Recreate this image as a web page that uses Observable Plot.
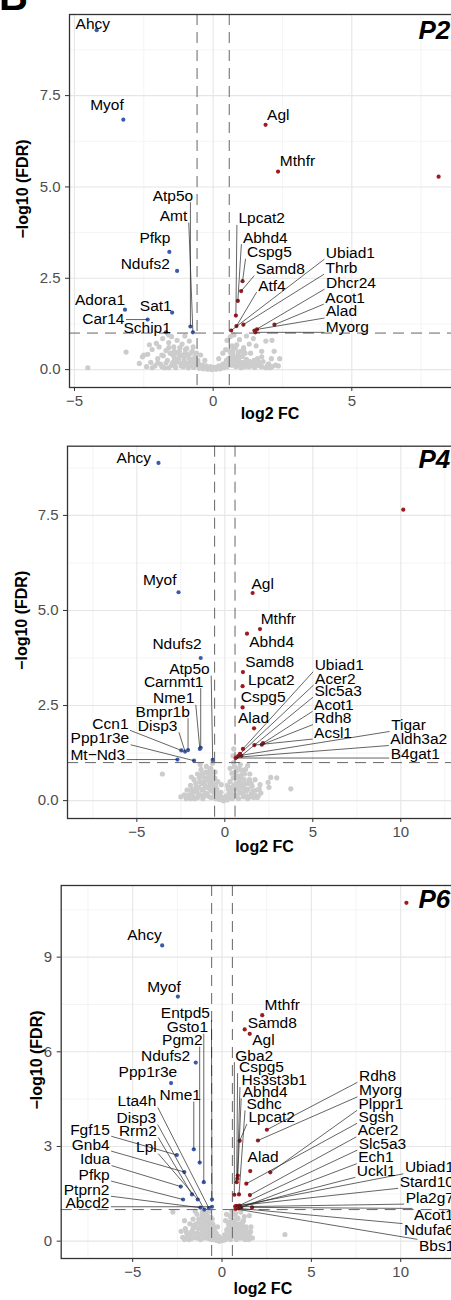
<!DOCTYPE html>
<html><head><meta charset="utf-8">
<script src="https://cdn.jsdelivr.net/npm/d3@7"></script>
<script src="https://cdn.jsdelivr.net/npm/@observablehq/plot@0.6"></script>
<style>
html,body{margin:0;padding:0;background:#fff;overflow:hidden;}
#wrap{position:relative;width:451px;height:1300px;overflow:hidden;background:#fff;}
#wrap svg{max-width:none !important;}
#tag{position:absolute;z-index:5;left:-1px;top:-24px;font:bold 40px "Liberation Sans",Arial,sans-serif;line-height:40px;color:#000;}
</style></head><body>
<div id="wrap"><div id="tag">B</div></div>
<script>
// ---------- P2 ----------
const p2Gene = ["Ahcy","Myof","Agl","Mthfr","Atp5o","Amt","Pfkp","Ndufs2","Adora1","Sat1","Car14","Schip1","Lpcat2","Abhd4","Cspg5","Samd8","Atf4","Ubiad1","Thrb","Dhcr24","Acot1","Alad","Myorg"];
const p2LogFC = [-4.20,-3.24,1.89,2.34,-0.82,-0.73,-1.58,-1.30,-3.18,-1.48,-2.36,-1.70,0.82,0.89,1.06,1.01,0.84,0.65,1.09,1.49,2.21,1.58,1.52];
const p2NegLogFDR = [9.29,6.84,6.70,5.42,1.18,1.02,3.22,2.70,1.64,1.56,1.37,1.02,1.48,1.88,2.42,2.15,1.19,1.07,1.23,1.07,1.23,1.10,1.02];
const p2LabelFC = [-4.34,-3.83,2.35,3.04,-1.45,-1.43,-2.10,-2.45,-4.08,-2.07,-3.96,-2.38,1.75,1.88,2.03,2.42,2.12,4.95,4.63,4.97,4.76,4.63,4.84];
const p2LabelFDR = [9.45,7.23,6.98,5.72,4.76,4.20,3.60,2.90,1.90,1.75,1.38,1.14,4.14,3.61,3.21,2.75,2.30,3.20,2.79,2.38,1.97,1.59,1.16];
const p2Unlabeled = [[8.13,5.28]];
const p2Background = [[-4.52,0.05],[-3.14,0.48],[-2.66,0.17],[-2.55,0.35],[-2.36,0.42],[-2.2,0.55],[-2.05,0.72],[-1.95,0.62],[-1.82,0.85],[-1.7,0.52],[-1.6,0.74],[-1.5,0.9],[-1.42,0.62],[-1.3,0.8],[-1.22,0.5],[-1.12,0.7],[-1.02,0.92],[-0.95,0.58],[-0.86,0.78],[-0.8,0.45],[-0.72,0.62],[-0.65,0.35],
[-2.4,0.08],[-2.25,0.2],[-2.1,0.1],[-2.0,0.3],[-1.9,0.15],[-1.8,0.38],[-1.75,0.05],[-1.65,0.25],[-1.55,0.45],[-1.5,0.12],[-1.4,0.32],[-1.35,0.05],[-1.3,0.22],[-1.2,0.38],[-1.15,0.1],[-1.05,0.28],[-1.0,0.45],[-0.95,0.15],[-0.9,0.05],[-0.85,0.3],[-0.75,0.18],[-0.7,0.06],[-0.6,0.12],[-0.55,0.25],[-0.5,0.04],[-0.42,0.1],[-0.35,0.02],[-0.28,0.07],[-0.2,0.01],[-0.12,0.04],[-0.05,0.0],[0.02,0.03],[0.1,0.01],[0.18,0.06],[0.25,0.02],[0.32,0.1],[0.38,0.05],[0.45,0.18],[0.5,0.08],[0.55,0.3],[0.6,0.14],[0.65,0.42],[0.7,0.22],[0.72,0.55],[0.78,0.35],[0.82,0.08],[0.85,0.68],[0.9,0.48],[0.95,0.2],[1.0,0.05],[1.05,0.36],[1.1,0.6],[1.15,0.15],[1.2,0.28],[1.28,0.08],[1.35,0.45],[1.42,0.18],[1.5,0.06],[1.6,0.3],[1.7,0.1],[1.8,0.22],[1.9,0.05],[2.0,0.16],[2.12,0.08],[2.25,0.12],[2.35,0.1],
[0.45,0.55],[0.5,0.8],[0.62,0.9],[0.75,0.95],[0.95,0.82],[1.2,0.92],[1.3,0.7],[1.55,0.65],[1.45,0.85],[1.75,0.5],[1.9,0.78],[2.12,0.8],[2.2,0.5],[2.4,0.3],[-1.6,0.95],[-2.3,0.68],[-0.45,0.4],[-0.3,0.25],[0.2,0.3],[0.35,0.45],[-1.1,0.4],[-1.4,0.5],[-1.85,0.4],[-2.5,0.4],[1.1,0.55],[1.75,0.35],[2.1,0.3]];
const p2Core = [[-2.2,0.05],[-2.0,0.18],[-1.85,0.08],[-1.7,0.18],[-1.6,0.05],[-1.45,0.2],[-1.38,0.12],[-1.25,0.3],[-1.18,0.18],[-1.08,0.08],[-1.02,0.2],[-0.98,0.38],[-0.88,0.18],[-0.82,0.1],[-0.78,0.26],[-0.68,0.12],[-0.62,0.22],[-0.52,0.15],[-0.46,0.06],[-0.38,0.12],[-0.32,0.05],[-0.25,0.1],[-0.18,0.05],[-0.1,0.08],[-0.02,0.05],[0.05,0.06],[0.12,0.05],[0.2,0.1],[0.28,0.06],[0.35,0.15],[0.42,0.1],[0.48,0.25],[0.52,0.12],[0.58,0.2],[0.62,0.32],[0.68,0.12],[0.74,0.28],[0.8,0.2],[0.88,0.12],[0.92,0.3],[0.98,0.14],[1.08,0.2],[1.12,0.08],[1.22,0.15],[1.32,0.22],[1.38,0.1],[1.48,0.25],[1.58,0.12],[1.65,0.2],[1.75,0.08],[1.95,0.1],[2.05,0.05],[-1.3,0.45],[-1.0,0.55],[-0.9,0.4],[-0.75,0.5],[-1.2,0.6],[-1.45,0.4],[-1.6,0.6],[0.6,0.5],[0.7,0.45],[0.8,0.6],[0.9,0.38],[1.0,0.5],[0.68,0.65],[1.15,0.45],[-0.6,0.45],[-0.68,0.3]];

// ---------- P4 ----------
const p4Gene = ["Ahcy","Myof","Agl","Mthfr","Abhd4","Ndufs2","Samd8","Lpcat2","Cspg5","Alad","Atp5o","Carnmt1","Nme1","Bmpr1b","Disp3","Ccn1","Ppp1r3e","Mt\u2212Nd3","Ubiad1","Acer2","Slc5a3","Acot1","Rdh8","Acsl1","Tigar","Aldh3a2","B4gat1"];
const p4LogFC = [-3.77,-2.63,1.58,2.00,1.26,-1.37,1.03,1.01,1.01,1.66,-0.69,-1.37,-1.42,-2.09,-2.26,-2.47,-1.75,-2.69,1.03,0.86,0.94,2.17,2.10,1.68,0.77,0.67,0.61];
const p4NegLogFDR = [8.88,5.48,5.46,4.51,4.39,3.75,3.38,3.01,2.45,1.90,1.07,1.39,1.36,1.33,1.29,1.32,1.05,1.08,1.36,1.23,1.18,1.51,1.47,1.46,1.18,1.14,1.12];
const p4LabelFC = [-5.17,-3.70,2.15,3.04,2.66,-2.72,2.55,2.64,2.18,1.63,-2.01,-2.91,-2.91,-3.53,-3.82,-6.50,-7.10,-7.22,6.50,6.28,6.44,6.20,6.14,6.15,10.44,11.02,10.82];
const p4LabelFDR = [9.01,5.79,5.70,4.77,4.18,4.11,3.65,3.18,2.72,2.16,3.46,3.13,2.69,2.34,1.97,2.02,1.64,1.20,3.56,3.21,2.89,2.52,2.17,1.79,1.99,1.62,1.22];
const p4Unlabeled = [[10.14,7.65]];
const p4Background = [[-3.55,0.70],[-2.3,0.15],[-2.15,0.28],[-2.0,0.08],[-1.95,0.4],[-1.85,0.2],[-1.75,0.55],[-1.7,0.05],[-1.62,0.35],[-1.55,0.7],[-1.5,0.15],[-1.42,0.5],[-1.35,0.82],[-1.3,0.28],[-1.25,0.05],[-1.2,0.62],[-1.12,0.4],[-1.05,0.9],[-1.0,0.18],[-0.95,0.72],[-0.9,0.5],[-0.85,0.3],[-0.8,0.85],[-0.75,0.08],[-0.72,0.6],[-0.65,0.4],[-0.6,0.2],[-0.55,0.75],[-0.5,0.05],[-0.45,0.3],[-0.4,0.5],[-0.35,0.15],[-0.3,0.03],[-0.22,0.22],[-0.15,0.08],[-0.08,0.0],[0.0,0.04],[0.08,0.12],[0.15,0.02],[0.2,0.3],[0.25,0.1],[0.3,0.5],[0.35,0.2],[0.4,0.72],[0.42,0.05],[0.46,1.18],[0.5,0.4],[0.51,1.36],[0.55,0.9],[0.58,0.15],[0.62,0.6],[0.68,0.3],[0.72,0.8],[0.78,0.05],[0.82,0.5],[0.88,0.95],[0.9,0.2],[0.95,0.68],[1.0,0.35],[1.05,0.1],[1.1,0.55],[1.18,0.82],[1.22,0.25],[1.3,0.05],[1.35,0.45],[1.42,0.7],[1.5,0.18],[1.55,0.38],[1.65,0.08],[1.72,0.55],[1.8,0.28],[1.9,0.12],[2.0,0.42],[2.05,0.2],[2.46,0.48],[2.51,0.35],[2.61,0.61],[2.95,0.6],[3.75,0.31],[-2.5,0.1],[-1.9,0.62],[-0.55,0.55],[0.3,0.85],[0.5,1.0],[1.3,0.92],[-1.4,0.95],[-0.7,0.98],[0.15,0.4],[-0.2,0.42],[-1.15,0.12],[-0.95,0.35],[0.7,0.1],[1.15,0.3],[-1.6,0.25]];
const p4Core = [[-2.2,0.05],[-2.05,0.15],[-1.9,0.28],[-1.8,0.1],[-1.72,0.3],[-1.65,0.45],[-1.58,0.22],[-1.48,0.35],[-1.45,0.6],[-1.38,0.15],[-1.32,0.45],[-1.28,0.7],[-1.22,0.3],[-1.18,0.5],[-1.1,0.2],[-1.08,0.75],[-1.02,0.55],[-0.98,0.35],[-0.92,0.62],[-0.88,0.1],[-0.85,0.8],[-0.82,0.42],[-0.78,0.65],[-0.75,0.25],[-0.7,0.5],[-0.68,0.75],[-0.62,0.3],[-0.58,0.6],[-0.52,0.4],[-0.48,0.18],[-0.42,0.22],[-0.38,0.08],[-0.28,0.12],[-0.2,0.05],[-0.12,0.02],[-0.05,0.08],[0.05,0.1],[0.12,0.06],[0.22,0.18],[0.3,0.25],[0.38,0.35],[0.45,0.15],[0.48,0.6],[0.55,0.3],[0.58,0.75],[0.62,0.45],[0.68,0.15],[0.7,0.65],[0.75,0.38],[0.8,0.85],[0.85,0.25],[0.88,0.6],[0.92,0.45],[0.98,0.8],[1.02,0.2],[1.08,0.4],[1.12,0.7],[1.2,0.45],[1.25,0.12],[1.32,0.3],[1.4,0.55],[1.45,0.1],[1.6,0.25],[1.7,0.15],[1.85,0.08],[-1.95,0.05],[-1.55,0.08],[1.95,0.3],[1.5,0.45]];

// ---------- P6 ----------
const p6Gene = ["Ahcy","Myof","Mthfr","Samd8","Agl","Entpd5","Gsto1","Pgm2","Ndufs2","Ppp1r3e","Nme1","Lta4h","Disp3","Fgf15","Rrm2","Gnb4","Lpl","Idua","Pfkp","Ptprn2","Abcd2","Gba2","Cspg5","Hs3st3b1","Abhd4","Sdhc","Lpcat2","Alad","Rdh8","Myorg","Plppr1","Sgsh","Acer2","Slc5a3","Ech1","Uckl1","Ubiad1","Stard10","Pla2g7","Acot1","Ndufa6","Bbs1"];
const p6LogFC = [-3.35,-2.47,2.25,1.27,1.55,-0.56,-1.02,-1.25,-1.47,-2.85,-1.58,-0.74,-0.99,-2.53,-1.68,-2.11,-1.36,-2.31,-2.18,-1.21,-0.56,0.69,0.82,0.86,0.88,0.95,0.99,1.58,2.51,2.01,2.70,1.36,1.56,0.97,1.06,0.88,0.74,0.80,1.00,1.68,0.92,0.76];
const p6NegLogFDR = [9.37,7.75,7.16,6.71,6.57,1.32,1.87,2.49,5.66,5.01,2.91,1.05,1.00,2.73,1.48,2.19,1.32,1.73,1.32,1.06,1.09,1.47,1.87,1.98,2.08,1.48,3.18,2.22,3.53,3.19,2.18,1.82,1.46,1.13,1.06,1.06,1.10,1.12,1.09,1.07,1.04,1.02];
const p6LabelFC = [-4.34,-3.25,3.37,2.81,2.32,-2.05,-1.94,-2.22,-3.16,-4.15,-2.34,-4.76,-4.79,-7.39,-4.71,-7.35,-4.23,-7.11,-7.16,-7.58,-7.53,1.80,2.21,2.92,2.41,2.36,2.78,2.30,8.70,8.87,8.89,8.63,8.73,8.98,8.61,8.63,11.61,11.46,11.63,11.85,11.58,12.01];
const p6LabelFDR = [9.69,8.06,7.48,6.90,6.38,7.22,6.78,6.37,5.87,5.36,4.63,4.44,3.90,3.53,3.49,3.06,2.98,2.60,2.11,1.63,1.22,5.88,5.53,5.09,4.73,4.35,3.92,2.66,5.24,4.78,4.35,3.94,3.51,3.09,2.66,2.23,2.34,1.88,1.38,0.83,0.35,-0.15];
const p6Unlabeled = [[10.32,10.72]];
const p6Background = [[-2.75,0.92],[-2.29,0.31],[-2.2,0.12],[-2.05,0.4],[-1.95,0.22],[-1.85,0.05],[-1.8,0.55],[-1.7,0.3],[-1.62,0.7],[-1.55,0.12],[-1.48,0.45],[-1.4,0.85],[-1.35,0.25],[-1.28,0.6],[-1.2,0.05],[-1.15,0.4],[-1.1,0.92],[-1.05,0.72],[-1.0,0.2],[-0.95,0.5],[-0.9,0.88],[-0.85,0.32],[-0.8,0.65],[-0.75,0.08],[-0.7,0.95],[-0.68,0.45],[-0.62,0.75],[-0.58,0.2],[-0.52,0.55],[-0.48,0.05],[-0.42,0.32],[-0.36,0.15],[-0.3,0.02],[-0.22,0.1],[-0.15,0.0],[-0.08,0.05],[0.0,0.02],[0.08,0.08],[0.15,0.2],[0.2,0.05],[0.26,0.35],[0.3,0.12],[0.36,0.55],[0.4,0.25],[0.45,0.8],[0.48,0.05],[0.52,0.45],[0.56,0.95],[0.6,0.15],[0.65,0.65],[0.7,0.3],[0.75,0.88],[0.8,0.05],[0.84,0.5],[0.9,0.72],[0.95,0.2],[1.0,0.4],[1.05,0.92],[1.1,0.1],[1.15,0.6],[1.22,0.28],[1.3,0.05],[1.35,0.45],[1.42,0.18],[1.53,0.81],[1.5,0.05],[1.6,0.3],[3.52,0.21],[-2.1,0.65],[-1.5,0.95],[0.2,0.65],[-0.25,0.45],[0.25,0.85],[1.25,0.78],[-0.6,0.05],[0.62,0.5],[-1.3,0.1],[-0.9,0.15],[0.4,0.1],[0.9,0.35],[-1.6,0.5],[1.2,0.45]];
const p6Core = [[-2.1,0.05],[-1.95,0.12],[-1.8,0.2],[-1.7,0.08],[-1.62,0.4],[-1.55,0.25],[-1.45,0.55],[-1.42,0.1],[-1.35,0.4],[-1.3,0.7],[-1.25,0.2],[-1.18,0.5],[-1.12,0.8],[-1.08,0.3],[-1.02,0.6],[-0.98,0.1],[-0.95,0.82],[-0.9,0.4],[-0.86,0.65],[-0.82,0.2],[-0.78,0.5],[-0.75,0.78],[-0.7,0.3],[-0.66,0.6],[-0.62,0.12],[-0.58,0.4],[-0.55,0.7],[-0.5,0.25],[-0.45,0.45],[-0.4,0.1],[-0.32,0.25],[-0.26,0.08],[-0.18,0.15],[-0.1,0.02],[0.05,0.1],[0.12,0.04],[0.2,0.2],[0.28,0.1],[0.32,0.4],[0.38,0.15],[0.42,0.6],[0.46,0.3],[0.5,0.75],[0.55,0.2],[0.58,0.5],[0.62,0.85],[0.66,0.35],[0.7,0.6],[0.74,0.15],[0.78,0.45],[0.82,0.75],[0.86,0.25],[0.92,0.55],[0.98,0.1],[1.02,0.3],[1.08,0.5],[1.15,0.2],[1.2,0.65],[1.28,0.35],[1.35,0.15],[1.45,0.3],[1.55,0.15],[-2.0,0.3],[1.7,0.1],[1.62,0.45]];

// ---------- shared ----------
const fcCut = [-0.58, 0.58];
const fdrCut = [1];
const BLUE = "#3b5ba9", RED = "#9b1b1f", GREY = "#cccccc";
const FONT = "'Liberation Sans', Arial, Helvetica, sans-serif";
const LFS = 15.5;

const ctx = document.createElement("canvas").getContext("2d");
ctx.font = `${LFS}px "Liberation Sans", Arial`;
const measure = t => ctx.measureText(t).width;
const minusFmt = d => d < 0 ? "\u2212" + (-d) : String(d);
const wrap = document.getElementById("wrap");

function makePanel(c) {
  const x0 = c.ml, x1 = c.W, yB = c.height - c.mb, yT = c.mt;
  const sx = v => x0 + (v - c.xd[0]) / (c.xd[1] - c.xd[0]) * (x1 - x0);
  const sy = v => yB - (v - c.yd[0]) / (c.yd[1] - c.yd[0]) * (yB - yT);
  const ix = p => c.xd[0] + (p - x0) / (x1 - x0) * (c.xd[1] - c.xd[0]);
  const iy = p => c.yd[0] + (yB - p) / (yB - yT) * (c.yd[1] - c.yd[0]);
  const rows = c.gene.map((g, i) => ({gene: g, fc: c.fc[i], fdr: c.fdr[i], lx: c.lfc[i], ly: c.lfdr[i]}));
  const sig = rows.map(r => ({fc: r.fc, fdr: r.fdr})).concat(c.extra.map(([a, b]) => ({fc: a, fdr: b})));
  const segs = [];
  rows.forEach(r => {
    const px = sx(r.fc), py = sy(r.fdr), cx = sx(r.lx), cy = sy(r.ly);
    const hw = measure(r.gene) / 2 + 1.5, hh = LFS * 0.42;
    const ex = Math.max(cx - hw, Math.min(cx + hw, px));
    const ey = Math.max(cy - hh, Math.min(cy + hh, py));
    if (Math.hypot(px - ex, py - ey) > 10) segs.push({x1: ix(ex), y1: iy(ey), x2: r.fc, y2: r.fdr});
  });
  const bg = c.bg.concat(c.core);
  const svg = Plot.plot({
    width: c.W, height: c.height,
    marginLeft: c.ml, marginRight: 0, marginTop: c.mt, marginBottom: c.mb,
    x: {domain: c.xd, label: null},
    y: {domain: c.yd, label: null},
    style: {fontFamily: FONT, background: "white", overflow: "visible", maxWidth: "none"},
    marks: [
      Plot.gridX(c.xMinor, {stroke: "#ececec", strokeOpacity: 1, strokeWidth: 0.6}),
      Plot.gridY(c.yMinor, {stroke: "#ececec", strokeOpacity: 1, strokeWidth: 0.6}),
      Plot.gridX(c.xTicks, {stroke: "#e6e6e6", strokeOpacity: 1, strokeWidth: 1.1}),
      Plot.gridY(c.yTicks, {stroke: "#e6e6e6", strokeOpacity: 1, strokeWidth: 1.1}),
      Plot.dot(bg, {x: d => d[0], y: d => d[1], r: 2.6, fill: GREY, stroke: "none"}),
      Plot.ruleX(fcCut, {stroke: "#666", strokeWidth: 1, strokeDasharray: "11,7"}),
      Plot.ruleY(fdrCut, {stroke: "#666", strokeWidth: 1, strokeDasharray: "11,7"}),
      Plot.dot(sig, {x: "fc", y: "fdr", r: 2.1, fill: d => d.fc > 0 ? RED : BLUE, stroke: "none"}),
      Plot.link(segs, {x1: "x1", y1: "y1", x2: "x2", y2: "y2", stroke: "#222", strokeWidth: 0.7}),
      Plot.text(rows, {x: "lx", y: "ly", text: "gene", fontSize: LFS, fill: "#000"}),
      Plot.frame({stroke: "#333", strokeWidth: 1.3}),
      Plot.axisX(c.xTicks, {tickSize: 4, tickPadding: 4, fontSize: 15, tickFormat: minusFmt, fill: "#4d4d4d", stroke: "#333", label: null}),
      Plot.axisY(c.yTicks, {tickSize: 4, tickPadding: 5, fontSize: 15, tickFormat: c.yFmt, fill: "#4d4d4d", stroke: "#333", label: null}),
      Plot.text(["log2 FC"], {frameAnchor: "bottom", textAnchor: "middle", lineAnchor: "middle", dy: c.xTitleDy, fontSize: 16, fontWeight: "bold", fill: "#000"}),
      Plot.text(["\u2212log10 (FDR)"], {frameAnchor: "left", textAnchor: "middle", lineAnchor: "middle", dx: c.yTitleX - c.ml, dy: -12, rotate: -90, fontSize: 16, fontWeight: "bold", fill: "#000"}),
      Plot.text([c.tag], {frameAnchor: "top-right", textAnchor: "start", lineAnchor: "middle", dx: 418 - c.W, dy: c.tagDy, fontSize: 26, fontWeight: "bold", fontStyle: "italic", fill: "#000"})
    ]
  });
  svg.style.position = "absolute";
  svg.style.left = "0px";
  svg.style.top = c.top + "px";
  svg.style.maxWidth = "none";
  svg.style.width = c.W + "px";
  wrap.appendChild(svg);
}

makePanel({tag: "P2", tagDy: 16, top: 0, W: 470, height: 431, ml: 69, mt: 14, mb: 44,
  xd: [-5.18, 9.28], yd: [-0.49, 9.72],
  xTicks: [-5, 0, 5], xMinor: [-2.5, 2.5, 7.5], yTicks: [0, 2.5, 5, 7.5], yMinor: [1.25, 3.75, 6.25, 8.75],
  yFmt: d3.format(".1f"), yTitleX: 22, xTitleDy: 26,
  gene: p2Gene, fc: p2LogFC, fdr: p2NegLogFDR, lfc: p2LabelFC, lfdr: p2LabelFDR, extra: p2Unlabeled, bg: p2Background, core: p2Core});

makePanel({tag: "P4", tagDy: 13, top: 431, W: 461, height: 431, ml: 67, mt: 14.7, mb: 44,
  xd: [-8.94, 13.45], yd: [-0.47, 9.32],
  xTicks: [-5, 0, 5, 10], xMinor: [-7.5, -2.5, 2.5, 7.5, 12.5], yTicks: [0, 2.5, 5, 7.5], yMinor: [1.25, 3.75, 6.25, 8.75],
  yFmt: d3.format(".1f"), yTitleX: 21, xTitleDy: 28,
  gene: p4Gene, fc: p4LogFC, fdr: p4NegLogFDR, lfc: p4LabelFC, lfdr: p4LabelFDR, extra: p4Unlabeled, bg: p4Background, core: p4Core});

makePanel({tag: "P6", tagDy: 14, top: 870, W: 464, height: 430, ml: 60.7, mt: 15, mb: 42,
  xd: [-9.0, 13.57], yd: [-0.55, 11.27],
  xTicks: [-5, 0, 5, 10], xMinor: [-7.5, -2.5, 2.5, 7.5, 12.5], yTicks: [0, 3, 6, 9], yMinor: [1.5, 4.5, 7.5, 10.5],
  yFmt: d => String(d), yTitleX: 36, xTitleDy: 30,
  gene: p6Gene, fc: p6LogFC, fdr: p6NegLogFDR, lfc: p6LabelFC, lfdr: p6LabelFDR, extra: p6Unlabeled, bg: p6Background, core: p6Core});
</script>
</body></html>
